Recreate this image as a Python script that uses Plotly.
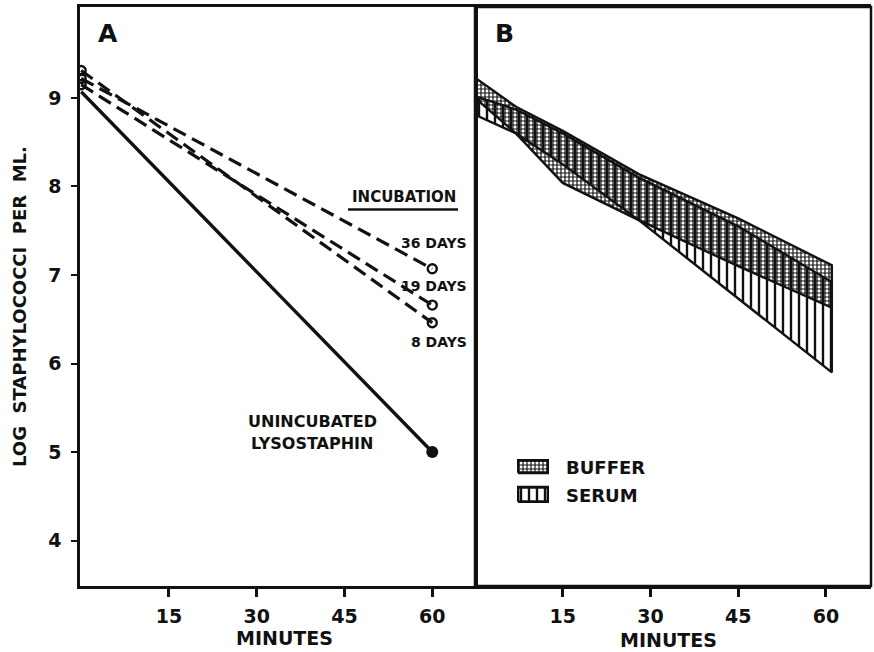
import plotly.graph_objects as go

# ---- Panel A data ----
minutes = [0, 60]
days36 = [9.22, 7.07]
days19 = [9.15, 6.66]
days8 = [9.31, 6.46]
unincubated = [9.07, 5.00]

# ---- Panel B data (band envelopes) ----
band_t = [0, 7, 15, 28, 45, 61]
buffer_hi = [9.23, 8.90, 8.63, 8.14, 7.64, 7.11]
buffer_lo = [9.00, 8.60, 8.04, 7.62, 7.10, 6.63]
serum_hi = [9.02, 8.87, 8.60, 8.10, 7.55, 6.92]
serum_lo = [8.81, 8.60, 8.25, 7.62, 6.73, 5.90]

x_ticks = [15, 30, 45, 60]
y_ticks = [4, 5, 6, 7, 8, 9]
legend_names = ["BUFFER", "SERUM"]

FONT = "DejaVu Sans"
BLACK = "#111111"
BUFFER_PATTERN = dict(shape="+", size=4, solidity=0.5, fgcolor=BLACK,
                      bgcolor="rgba(0,0,0,0)", fgopacity=1)
SERUM_PATTERN = dict(shape="|", size=8, solidity=0.3, fgcolor=BLACK,
                     bgcolor="rgba(0,0,0,0)", fgopacity=1)

fig = go.Figure()

dash = "14px,7px"
for vals in (days36, days19, days8):
    fig.add_trace(go.Scatter(
        x=minutes, y=vals, mode="lines+markers", xaxis="x", yaxis="y",
        line=dict(color=BLACK, width=3.2, dash=dash),
        marker=dict(symbol="circle-open", size=9, color=BLACK, line=dict(width=2.4)),
        showlegend=False, hoverinfo="skip"))

fig.add_trace(go.Scatter(
    x=minutes, y=unincubated, mode="lines", xaxis="x", yaxis="y",
    line=dict(color=BLACK, width=3.4), showlegend=False, hoverinfo="skip"))
fig.add_trace(go.Scatter(
    x=minutes[1:], y=unincubated[1:], mode="markers", xaxis="x", yaxis="y",
    marker=dict(symbol="circle", size=12, color=BLACK),
    showlegend=False, hoverinfo="skip"))


def band(hi, lo):
    return band_t + band_t[::-1], hi + lo[::-1]


sx, sy = band(serum_hi, serum_lo)
fig.add_trace(go.Scatter(
    x=sx, y=sy, mode="lines", fill="toself", xaxis="x2", yaxis="y",
    name="SERUM", line=dict(color=BLACK, width=2.4),
    fillcolor="rgba(0,0,0,0)", fillpattern=SERUM_PATTERN,
    showlegend=False, hoverinfo="skip"))

bx, by = band(buffer_hi, buffer_lo)
fig.add_trace(go.Scatter(
    x=bx, y=by, mode="lines", fill="toself", xaxis="x2", yaxis="y",
    name="BUFFER", line=dict(color=BLACK, width=2.4),
    fillcolor="rgba(0,0,0,0)", fillpattern=BUFFER_PATTERN,
    showlegend=False, hoverinfo="skip"))

# legend swatches drawn on a small helper axis (0..1 box coordinates)
fig.add_trace(go.Scatter(
    x=[0, 1, 1, 0, 0], y=[0.70, 0.70, 1, 1, 0.70], mode="lines", fill="toself",
    xaxis="x3", yaxis="y3", line=dict(color=BLACK, width=3),
    fillcolor="rgba(0,0,0,0)", fillpattern=BUFFER_PATTERN,
    showlegend=False, hoverinfo="skip"))
fig.add_trace(go.Scatter(
    x=[0, 1, 1, 0, 0], y=[0, 0, 0.35, 0.35, 0], mode="lines", fill="toself",
    xaxis="x3", yaxis="y3", line=dict(color=BLACK, width=3),
    fillcolor="rgba(0,0,0,0)", fillpattern=SERUM_PATTERN,
    showlegend=False, hoverinfo="skip"))

tickfont = dict(family=FONT, size=19, color=BLACK, weight="bold")
common_x = dict(
    tickvals=x_ticks, ticks="outside", ticklen=8, tickwidth=2.5, tickcolor=BLACK,
    showline=True, linewidth=2.5, linecolor=BLACK, mirror=True,
    showgrid=False, zeroline=False, tickfont=tickfont, ticklabelstandoff=3)

left_px, right_px, top_px, bottom_px = 80, 871, 7, 586
W, H = 874, 652
pw = right_px - left_px
ph = bottom_px - top_px
split = (475 - left_px) / pw

hidden = dict(visible=False, range=[-0.03, 1.03], fixedrange=True)
fig.update_layout(
    width=W, height=H,
    margin=dict(l=left_px, r=W - right_px, t=top_px, b=H - bottom_px),
    paper_bgcolor="white", plot_bgcolor="white",
    xaxis=dict(domain=[0, split], range=[-0.2, 67.3], **common_x),
    xaxis2=dict(domain=[split, 1], range=[0, 67.7], **common_x),
    yaxis=dict(range=[3.486, 10.028], tickvals=y_ticks, ticks="outside",
               ticklen=6, tickwidth=2.2, tickcolor=BLACK,
               showline=True, linewidth=2.5, linecolor=BLACK, mirror=True,
               showgrid=False, zeroline=False, tickfont=tickfont,
               ticklabelstandoff=6),
    xaxis3=dict(domain=[(517 - left_px) / pw, (549 - left_px) / pw], anchor="y3", **hidden),
    yaxis3=dict(domain=[(bottom_px - 503) / ph, (bottom_px - 459) / ph], anchor="x3", **hidden),
    showlegend=False,
)

# panel B frame
fig.add_shape(type="rect", xref="x2 domain", yref="y domain", x0=0, x1=1, y0=0, y1=1,
              line=dict(color=BLACK, width=2.5))


def ann(text, x, y, size, xref="x", yref="y", bold=True, xanchor="center", angle=0):
    fig.add_annotation(
        text=text, x=x, y=y, xref=xref, yref=yref, showarrow=False,
        xanchor=xanchor, yanchor="middle", textangle=angle,
        font=dict(family=FONT, size=size, color=BLACK,
                  weight="bold" if bold else "normal"))


ann("A", 4.5, 9.73, 25)
ann("B", 5.1, 9.73, 25, xref="x2")
ann("INCUBATION", 55.1, 7.88, 15)
fig.add_shape(type="line", xref="x", yref="y", x0=45.6, x1=64.4, y0=7.74, y1=7.74,
              line=dict(color=BLACK, width=2.5))
ann("36 DAYS", 66.3, 7.36, 14, xanchor="right")
ann("19 DAYS", 66.3, 6.88, 14, xanchor="right")
ann("8 DAYS", 66.3, 6.24, 14, xanchor="right")
ann("UNINCUBATED", 39.5, 5.34, 16)
ann("LYSOSTAPHIN", 39.5, 5.10, 16)

ann(legend_names[0], (564 - left_px) / pw, (bottom_px - 467) / ph, 18,
    xref="paper", yref="paper", xanchor="left")
ann(legend_names[1], (564 - left_px) / pw, (bottom_px - 495) / ph, 18,
    xref="paper", yref="paper", xanchor="left")

ann("MINUTES", (284 - left_px) / pw, (bottom_px - 638) / ph, 19, xref="paper", yref="paper")
ann("MINUTES", (668 - left_px) / pw, (bottom_px - 640) / ph, 19, xref="paper", yref="paper")
ann("LOG  STAPHYLOCOCCI  PER  ML.", (19 - left_px) / pw, (bottom_px - 307) / ph, 18,
    xref="paper", yref="paper", angle=-90)

fig.write_html("out.html")
